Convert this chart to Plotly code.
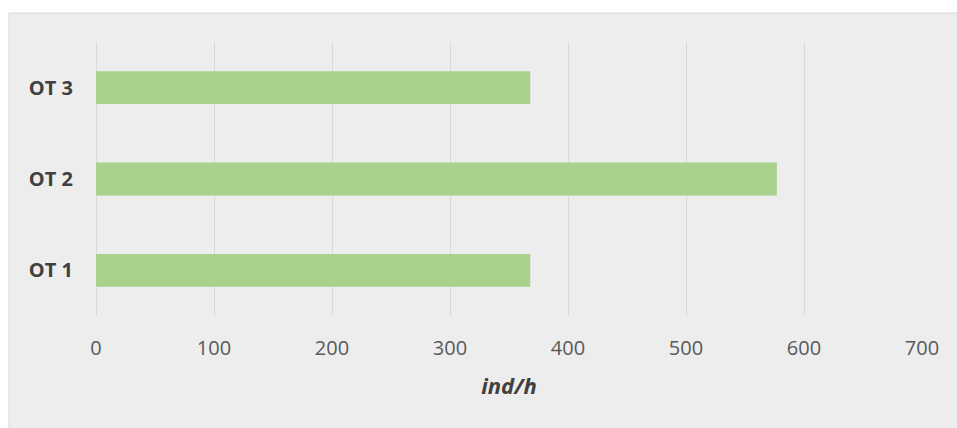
import plotly.graph_objects as go

categories = ["OT 1", "OT 2", "OT 3"]
values = [368, 577, 368]
x_ticks = [0, 100, 200, 300, 400, 500, 600, 700]
x_title = "<b><i>ind/h</i></b>"

W, H = 957, 428
L, R, T, B = 96, 35, 42, 112
pw, ph = W - L - R, H - T - B

fig = go.Figure(go.Bar(
    x=values, y=categories, orientation="h",
    marker=dict(color="#a9d18e", line=dict(width=0)),
    hoverinfo="x+y",
))

# chart-area box starts at px (9,13); the rest of the page is white
bx0 = (9 - L) / pw
by1 = (H - B - 13) / ph
for s in [
    dict(type="rect", x0=-1.0, x1=bx0, y0=-1.0, y1=2.0),   # white left strip
    dict(type="rect", x0=-1.0, x1=2.0, y0=by1, y1=2.0),    # white top strip
]:
    fig.add_shape(xref="paper", yref="paper", fillcolor="white",
                  line=dict(width=0), layer="below", **s)
fig.add_shape(type="line", xref="paper", yref="paper",
              x0=bx0, x1=bx0, y0=-1.0, y1=by1,
              line=dict(color="#d9d9d9", width=1), layer="below")
fig.add_shape(type="line", xref="paper", yref="paper",
              x0=bx0, x1=2.0, y0=by1, y1=by1,
              line=dict(color="#d9d9d9", width=1), layer="below")

fig.update_layout(
    width=W, height=H,
    margin=dict(l=L, r=R, t=T, b=B, pad=0),
    paper_bgcolor="#ededed",
    plot_bgcolor="rgba(0,0,0,0)",
    bargap=0.64,
    showlegend=False,
    font=dict(family="Open Sans", color="#595959"),
    xaxis=dict(
        range=[0, 700], tickvals=x_ticks, ticktext=[str(t) for t in x_ticks],
        showgrid=True, gridcolor="#d9d9d9", gridwidth=1,
        zeroline=True, zerolinecolor="#d9d9d9", zerolinewidth=1,
        showline=False, ticks="", ticklabelstandoff=18,
        tickfont=dict(size=20, color="#595959"),
        title=dict(text=x_title, font=dict(size=22, color="#404040"), standoff=18),
        fixedrange=True,
    ),
    yaxis=dict(
        categoryorder="array", categoryarray=categories,
        showgrid=False, zeroline=False, showline=False, ticks="",
        ticklabelstandoff=22,
        tickfont=dict(size=20, color="#404040", weight="bold"),
        range=[-0.5, 2.5],
        fixedrange=True,
    ),
)

fig.write_html(
    "out.html",
    config={"displayModeBar": False},
    post_script="document.body.style.margin='0';document.body.style.overflow='hidden';",
)
